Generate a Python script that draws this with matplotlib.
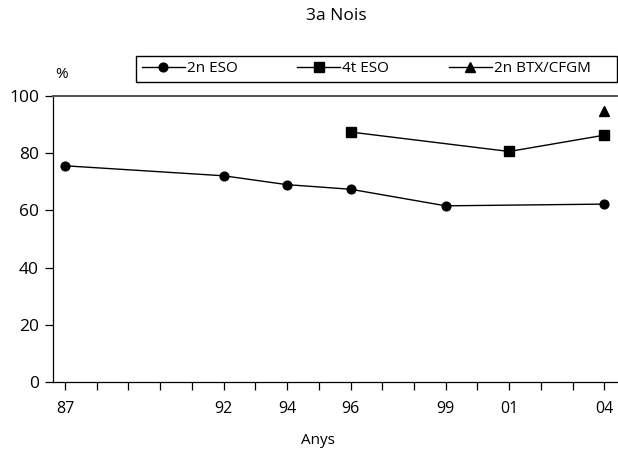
import numpy as np
import matplotlib.pyplot as plt
from matplotlib.patches import Rectangle

plt.rcParams['font.family'] = ['Open Sans', 'DejaVu Sans']

# Data
years = list(range(1987, 2005))
tick_labels = {1987: '87', 1992: '92', 1994: '94', 1996: '96',
               1999: '99', 2001: '01', 2004: '04'}

eso2_years = [1987, 1992, 1994, 1996, 1999, 2004]
eso2_vals = [75.6, 72.1, 69.0, 67.4, 61.6, 62.2]

eso4_years = [1996, 2001, 2004]
eso4_vals = [87.4, 80.6, 86.3]

btx_years = [2004]
btx_vals = [94.8]

W, H = 618, 454
fig = plt.figure(figsize=(W / 100, H / 100), dpi=100)
ax = fig.add_axes([53 / W, 1 - 382 / H, (617 - 53) / W, (382 - 96) / H])

l1, = ax.plot(eso2_years, eso2_vals, color='black', lw=1.0, marker='o', ms=6.3)
l2, = ax.plot(eso4_years, eso4_vals, color='black', lw=1.0, marker='s', ms=7.5)
l3, = ax.plot(btx_years, btx_vals, color='black', lw=1.0, marker='^', ms=7)

ax.set_xlim(1986.62, 2004.4)
ax.set_ylim(0, 100)
ax.set_xticks(years)
ax.set_xticklabels([tick_labels.get(y, '') for y in years], fontsize=11.5)
ax.set_yticks(np.arange(0, 101, 20))
ax.tick_params(axis='y', labelsize=12.5, length=6, width=0.9, pad=4)
ax.tick_params(axis='x', length=6, width=0.9, pad=8)

ax.spines['right'].set_visible(False)
ax.spines['top'].set_color('#555555')
ax.spines['top'].set_linewidth(1.4)
ax.spines['left'].set_linewidth(0.9)
ax.spines['bottom'].set_linewidth(0.9)

fig.text(336 / W, 1 - 16 / H, '3a Nois', ha='center', va='center', fontsize=12.5)
fig.text(62 / W, 1 - 75 / H, '%', ha='center', va='center', fontsize=11)
fig.text(318 / W, 1 - 441 / H, 'Anys', ha='center', va='center', fontsize=11)

# legend box
fig.patches.append(Rectangle((136 / W, 1 - 82 / H), (617 - 136) / W, 26 / H,
                             transform=fig.transFigure, fill=False,
                             edgecolor='black', linewidth=1.0))
leg = fig.legend([l1, l2, l3], ['2n ESO', '4t ESO', '2n BTX/CFGM'],
                 ncol=3, loc='center left',
                 bbox_to_anchor=(142 / W, 1 - 69 / H),
                 bbox_transform=fig.transFigure, frameon=False,
                 fontsize=11, handlelength=2.8, handletextpad=0.15,
                 columnspacing=3.9, borderaxespad=0, borderpad=0)

fig.savefig('out.png', dpi=100)
